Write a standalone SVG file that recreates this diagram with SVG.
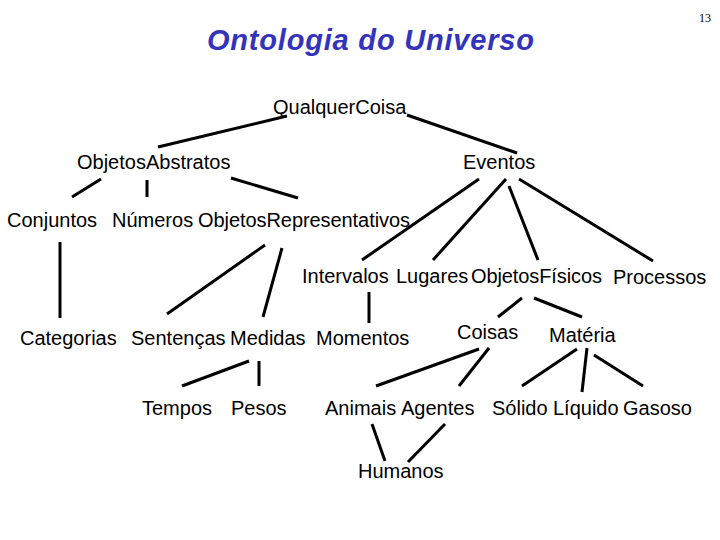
<svg xmlns="http://www.w3.org/2000/svg" width="720" height="540" viewBox="0 0 720 540">
<style>
text{font-family:"Liberation Sans",Arial,sans-serif;font-size:20px;fill:#000}
.t{font-size:29px;font-weight:bold;font-style:italic;fill:#3333bb;letter-spacing:0.8px}
.n{font-family:"Liberation Serif",serif;font-size:12px}
line{stroke:#000;stroke-width:3}
</style>
<rect width="720" height="540" fill="#fff"/>
<text class="t" x="207" y="50">Ontologia do Universo</text>
<text class="n" x="699" y="22">13</text>
<g id="connectors">
<line x1="158" y1="147" x2="287" y2="116"/>
<line x1="407" y1="115" x2="517" y2="153"/>
<line x1="72" y1="197" x2="101" y2="179"/>
<line x1="147" y1="180" x2="147" y2="197"/>
<line x1="231" y1="178" x2="298" y2="198"/>
<line x1="479" y1="179" x2="362" y2="260"/>
<line x1="506" y1="179" x2="433" y2="260"/>
<line x1="509" y1="186" x2="538" y2="260"/>
<line x1="519" y1="179" x2="653" y2="261"/>
<line x1="60" y1="242" x2="60" y2="318"/>
<line x1="265" y1="245" x2="167" y2="314"/>
<line x1="282" y1="248" x2="263" y2="317"/>
<line x1="369" y1="292" x2="369" y2="323"/>
<line x1="249" y1="361" x2="182" y2="386"/>
<line x1="259" y1="361" x2="259" y2="386"/>
<line x1="498" y1="317" x2="522" y2="298"/>
<line x1="534" y1="298" x2="582" y2="317"/>
<line x1="479" y1="349" x2="376" y2="386"/>
<line x1="489" y1="348" x2="459" y2="386"/>
<line x1="577" y1="349" x2="522" y2="386"/>
<line x1="587" y1="348" x2="582" y2="392"/>
<line x1="594" y1="355" x2="643" y2="386"/>
<line x1="372" y1="424" x2="385" y2="461"/>
<line x1="445" y1="424" x2="408" y2="462"/>
</g>
<g id="QualquerCoisa"><text x="273" y="114">QualquerCoisa</text></g>
<g id="ObjetosAbstratos"><text x="77" y="169">ObjetosAbstratos</text></g>
<g id="Eventos"><text x="463" y="169">Eventos</text></g>
<g id="Conjuntos"><text x="7" y="227">Conjuntos</text></g>
<g id="Numeros"><text x="112" y="227">Números</text></g>
<g id="ObjetosRepresentativos"><text x="198" y="227" textLength="212">ObjetosRepresentativos</text></g>
<g id="Intervalos"><text x="302" y="283">Intervalos</text></g>
<g id="Lugares"><text x="396" y="283">Lugares</text></g>
<g id="ObjetosFisicos"><text x="471" y="283" textLength="131">ObjetosFísicos</text></g>
<g id="Processos"><text x="613" y="284">Processos</text></g>
<g id="Categorias"><text x="20" y="345">Categorias</text></g>
<g id="Sentencas"><text x="131" y="345">Sentenças</text></g>
<g id="Medidas"><text x="230" y="345">Medidas</text></g>
<g id="Momentos"><text x="316" y="345">Momentos</text></g>
<g id="Coisas"><text x="457" y="339">Coisas</text></g>
<g id="Materia"><text x="549" y="342">Matéria</text></g>
<g id="Tempos"><text x="142" y="415">Tempos</text></g>
<g id="Pesos"><text x="231" y="415">Pesos</text></g>
<g id="Animais"><text x="325" y="415">Animais</text></g>
<g id="Agentes"><text x="401" y="415">Agentes</text></g>
<g id="Solido"><text x="492" y="415">Sólido</text></g>
<g id="Liquido"><text x="553" y="415">Líquido</text></g>
<g id="Gasoso"><text x="623" y="415">Gasoso</text></g>
<g id="Humanos"><text x="358" y="478">Humanos</text></g>
</svg>
